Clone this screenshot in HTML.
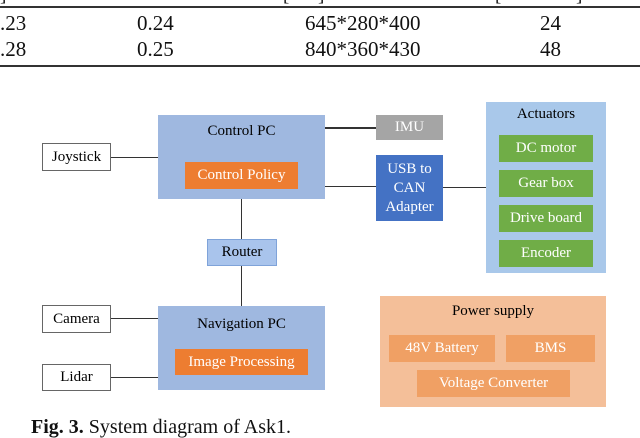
<!DOCTYPE html>
<html><head><style>
body{margin:0;width:640px;height:437px;background:#fff;position:relative;overflow:hidden;font-family:"Liberation Serif",serif;}
.a{position:absolute;box-sizing:border-box;display:flex;align-items:center;justify-content:center;text-align:center;}
.t{position:absolute;font-size:20px;line-height:20px;color:#111;}
.l{position:absolute;background:#333;}
</style></head><body>
<div class="t" style="left:0;top:-14px;width:640px;font-size:19px">
<span style="position:absolute;left:0">]</span><span style="position:absolute;left:283px">[</span><span style="position:absolute;left:318px">]</span><span style="position:absolute;left:495px">[</span><span style="position:absolute;left:576px">]</span></div>
<div class="l" style="left:0;top:6px;width:640px;height:2px"></div>
<div class="t" style="left:0;top:13px;font-size:21px">.23</div>
<div class="t" style="left:137px;top:13px;font-size:21px">0.24</div>
<div class="t" style="left:305px;top:13px;font-size:21px">645*280*400</div>
<div class="t" style="left:540px;top:13px;font-size:21px">24</div>
<div class="t" style="left:0;top:39px;font-size:21px">.28</div>
<div class="t" style="left:137px;top:39px;font-size:21px">0.25</div>
<div class="t" style="left:305px;top:39px;font-size:21px">840*360*430</div>
<div class="t" style="left:540px;top:39px;font-size:21px">48</div>
<div class="l" style="left:0;top:65px;width:640px;height:2px"></div>

<!-- lines -->
<div class="l" style="left:111px;top:157px;width:47px;height:1px"></div>
<div class="l" style="left:325px;top:127px;width:51px;height:2px"></div>
<div class="l" style="left:325px;top:186px;width:51px;height:1px"></div>
<div class="l" style="left:443px;top:187px;width:43px;height:1px"></div>
<div class="l" style="left:241px;top:199px;width:1px;height:107px"></div>
<div class="l" style="left:111px;top:318px;width:47px;height:1px"></div>
<div class="l" style="left:111px;top:377px;width:47px;height:1px"></div>

<div class="a" style="left:158px;top:115px;width:167px;height:84px;background:#9fb8e0;align-items:flex-start;padding-top:8px;font-size:15px">Control PC</div>
<div class="a" style="left:185px;top:162px;width:113px;height:27px;background:#ed7d31;color:#fff;font-size:15px">Control Policy</div>
<div class="a" style="left:42px;top:143px;width:69px;height:28px;border:1px solid #666;font-size:15px">Joystick</div>
<div class="a" style="left:376px;top:115px;width:67px;height:25px;background:#a5a5a5;color:#fff;font-size:15px">IMU</div>
<div class="a" style="left:376px;top:155px;width:67px;height:66px;background:#4472c4;color:#fff;font-size:15px;line-height:19px">USB to<br>CAN<br>Adapter</div>
<div class="a" style="left:207px;top:239px;width:70px;height:27px;background:#a9c4ec;border:1px solid #7fa3d9;font-size:15px">Router</div>
<div class="a" style="left:158px;top:306px;width:167px;height:84px;background:#9fb8e0;align-items:flex-start;padding-top:10px;font-size:15px">Navigation PC</div>
<div class="a" style="left:175px;top:349px;width:133px;height:26px;background:#ed7d31;color:#fff;font-size:15px">Image Processing</div>
<div class="a" style="left:42px;top:305px;width:69px;height:28px;border:1px solid #666;font-size:15px">Camera</div>
<div class="a" style="left:42px;top:364px;width:69px;height:27px;border:1px solid #666;font-size:15px">Lidar</div>

<div class="a" style="left:486px;top:102px;width:120px;height:171px;background:#a9c8ea;align-items:flex-start;padding-top:4px;font-size:15px">Actuators</div>
<div class="a" style="left:499px;top:135px;width:94px;height:27px;background:#70ad47;color:#fff;font-size:15px">DC motor</div>
<div class="a" style="left:499px;top:170px;width:94px;height:27px;background:#70ad47;color:#fff;font-size:15px">Gear box</div>
<div class="a" style="left:499px;top:205px;width:94px;height:27px;background:#70ad47;color:#fff;font-size:15px">Drive board</div>
<div class="a" style="left:499px;top:240px;width:94px;height:27px;background:#70ad47;color:#fff;font-size:15px">Encoder</div>

<div class="a" style="left:380px;top:296px;width:226px;height:111px;background:#f4bf99;align-items:flex-start;padding-top:7px;font-size:15px">Power supply</div>
<div class="a" style="left:389px;top:335px;width:106px;height:27px;background:#f0a064;color:#fff;font-size:15px">48V Battery</div>
<div class="a" style="left:506px;top:335px;width:89px;height:27px;background:#f0a064;color:#fff;font-size:15px">BMS</div>
<div class="a" style="left:417px;top:370px;width:153px;height:27px;background:#f0a064;color:#fff;font-size:15px">Voltage Converter</div>

<div class="t" style="left:31px;top:417px;font-size:20px"><b>Fig. 3.</b> System diagram of Ask1.</div>
</body></html>
